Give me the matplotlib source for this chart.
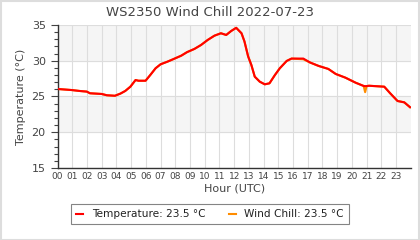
import numpy as np
import matplotlib
matplotlib.use("Agg")
import matplotlib.pyplot as plt
from matplotlib.patches import Rectangle

# hour of day (UTC) and readings
hours = [0.0, 0.96, 1.5, 1.99, 2.2, 3.0, 3.35, 3.9, 4.27, 4.6, 4.95, 5.3, 5.5,
         5.98, 6.3, 6.66, 7.0, 7.47, 7.9, 8.4, 8.8, 9.3, 9.75, 10.2, 10.66,
         11.1, 11.46, 11.8, 12.14, 12.5, 12.7, 12.95, 13.17, 13.4, 13.74,
         14.08, 14.4, 14.77, 15.1, 15.57, 15.9, 16.7, 17.16, 17.74, 18.4,
         18.9, 19.56, 20.25, 20.8, 20.9, 21.0, 21.16, 22.2, 22.6, 23.1,
         23.56, 23.95]
temp = [26.05, 25.9, 25.77, 25.68, 25.45, 25.35, 25.17, 25.1, 25.4, 25.77,
        26.37, 27.3, 27.2, 27.2, 28.0, 28.94, 29.5, 29.87, 30.25, 30.7, 31.2,
        31.65, 32.2, 32.9, 33.5, 33.84, 33.6, 34.16, 34.6, 33.84, 32.7, 30.6,
        29.4, 27.77, 27.07, 26.7, 26.84, 28.0, 28.94, 29.97, 30.3, 30.3,
        29.75, 29.27, 28.85, 28.15, 27.63, 26.93, 26.47, 26.45, 26.45, 26.5,
        26.37, 25.45, 24.37, 24.18, 23.5]
wind_chill = [26.05, 25.9, 25.77, 25.68, 25.45, 25.35, 25.17, 25.1, 25.4, 25.77,
              26.37, 27.3, 27.2, 27.2, 28.0, 28.94, 29.5, 29.87, 30.25, 30.7, 31.2,
              31.65, 32.2, 32.9, 33.5, 33.84, 33.6, 34.16, 34.6, 33.84, 32.7, 30.6,
              29.4, 27.77, 27.07, 26.7, 26.84, 28.0, 28.94, 29.97, 30.3, 30.2,
              29.75, 29.27, 28.85, 28.15, 27.63, 26.93, 26.47, 25.6, 26.45, 26.5,
              26.37, 25.45, 24.37, 24.18, 23.5]
hour_labels = ["%02d" % h for h in range(24)]

fig = plt.figure(figsize=(4.2, 2.4), dpi=100)
ax = fig.add_axes([0.137, 0.30, 0.841, 0.596])

# alternating background bands
for lo in (20, 30):
    ax.axhspan(lo, lo + 5, color="#f5f5f5", zorder=0)

ax.plot(hours, wind_chill, color="#ff8c00", lw=1.5, zorder=3,
        label="Wind Chill: %.1f °C" % wind_chill[-1])
ax.plot(hours, temp, color="#ff0000", lw=1.5, zorder=4,
        label="Temperature: %.1f °C" % temp[-1])

ax.set_xlim(0, 24)
ax.set_ylim(15, 35)
ax.set_xticks(range(24))
ax.set_xticklabels(hour_labels, fontsize=6.5, color="#444444")
ax.set_yticks([15, 20, 25, 30, 35])
ax.set_yticks(range(15, 36), minor=True)
ax.tick_params(axis="y", labelsize=8, colors="#444444", length=5, width=0.8)
ax.tick_params(axis="y", which="minor", length=3, width=0.8, color="#444444")
ax.tick_params(axis="x", length=0, pad=3)
ax.grid(True, color="#dddddd", lw=0.8, zorder=1)
ax.set_axisbelow(True)

for s in ("top", "right"):
    ax.spines[s].set_visible(False)
for s in ("left", "bottom"):
    ax.spines[s].set_color("#333333")
    ax.spines[s].set_linewidth(1.0)

fig.suptitle("WS2350 Wind Chill 2022-07-23", fontsize=9.5, color="#444444",
             x=0.5, y=0.975, va="top")
ax.set_xlabel("Hour (UTC)", fontsize=8, color="#444444", labelpad=2)
ax.set_ylabel("Temperature (°C)", fontsize=8, color="#444444")

h, l = ax.get_legend_handles_labels()
leg = fig.legend(h[::-1], l[::-1], loc="upper center", bbox_to_anchor=(0.5, 0.17),
                 ncol=2, fontsize=7.6, frameon=True, fancybox=False,
                 handlelength=0.7, columnspacing=2.2, borderpad=0.45)
leg.get_frame().set_edgecolor("#666666")
leg.get_frame().set_linewidth(0.8)
for t in leg.get_texts():
    t.set_color("#222222")

fig.patches.append(Rectangle((0.002, 0.002), 0.996, 0.995, transform=fig.transFigure,
                             fill=False, edgecolor="#dddddd", lw=1.5))

fig.savefig("out.png", dpi=100)
